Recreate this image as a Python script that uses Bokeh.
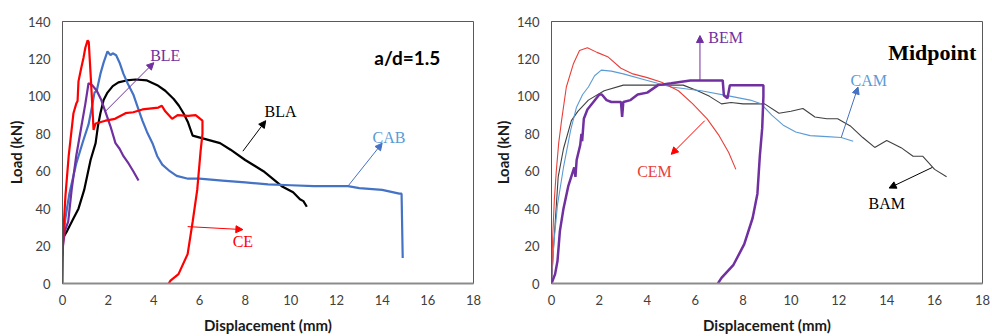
from bokeh.plotting import figure
from bokeh.layouts import row
from bokeh.models import Arrow, NormalHead, FixedTicker, Range1d
from bokeh.core.properties import value
from bokeh.embed import file_html
from bokeh.resources import INLINE

# ---------------- data: left panel (a/d = 1.5) ----------------
CE_x = [0, 0.05, 0.13, 0.27, 0.48, 0.6, 0.66, 0.7, 0.8, 0.92, 1.0, 1.1, 1.15, 1.23, 1.31, 1.36, 1.45, 1.88, 2.3, 2.76,
        3.1, 3.5, 4.2, 4.35, 4.5, 4.8, 5.04, 5.5, 5.83, 6.13, 6.13, 6.05, 5.9, 5.7, 5.48, 5.08, 4.73, 4.65]
CE_y = [15, 30, 47, 68, 91, 96, 97.5, 108, 114, 120.6, 126, 130, 129, 112, 94, 82, 85.5, 87, 88, 91,
        91.5, 93, 94, 95, 92, 88, 90, 89.6, 90, 87, 80, 71, 50, 33, 15.7, 5, 1.5, 0]

BLE_x = [0, 0.02, 0.1, 0.25, 0.4, 0.6, 0.8, 1.0, 1.14, 1.3, 1.5, 1.7, 1.9, 2.1, 2.32, 2.5, 2.67, 2.9, 3.1, 3.33]
BLE_y = [0, 20, 28, 33, 50, 68, 82, 96, 107, 106, 103, 98, 91, 84, 75, 72, 68, 64, 60, 55]

CAB_x = [0, 0.13, 0.3, 0.6, 0.9, 1.14, 1.3, 1.4, 1.5, 1.66, 1.8, 1.97, 2.1, 2.2, 2.35, 2.5, 2.67, 2.85, 3.1,
         3.3, 3.5, 3.7, 3.94, 4.15, 4.37, 4.7, 5.0, 5.5, 6.0, 7.0, 8.0, 9.0, 10.0, 11.0, 12.0, 12.5, 13.0,
         14.0, 14.75, 14.85, 14.9]
CAB_y = [20, 35, 48, 64, 76, 85, 95, 102, 103, 112, 118, 124, 122, 123, 122, 118, 112, 107, 101,
         94, 87, 81, 75, 68, 63.5, 60, 57.5, 56, 56, 55, 54, 53, 52.5, 52, 52, 52, 51,
         50, 48, 48, 13.6]

BLA_x = [0, 0.2, 0.45, 0.7, 0.95, 1.23, 1.45, 1.55, 1.66, 1.8, 1.97, 2.2, 2.45, 2.8, 3.2, 3.7, 4.15, 4.5,
         4.87, 5.1, 5.3, 5.5, 5.7, 6.3, 6.9, 7.36, 8.0, 8.8, 9.6, 10.1, 10.4, 10.55, 10.7]
BLA_y = [24, 28, 34, 40, 50, 66, 75, 84, 91, 98, 102, 105.5, 107.5, 108.5, 109, 108.5, 106, 103,
         98.6, 95, 91, 86, 79, 77, 75, 71.5, 66, 60, 52, 48.8, 45, 44, 41]

# ---------------- data: right panel (Midpoint) ----------------
CEM_x = [0, 0.05, 0.12, 0.2, 0.3, 0.42, 0.62, 0.92, 1.17, 1.5, 1.9, 2.37, 2.9, 3.4, 4.0, 4.6, 5.3, 5.9,
         6.5, 7.0, 7.4, 7.7]
CEM_y = [0, 25, 45, 60, 75, 87, 105, 117.6, 124.5, 126, 123.5, 121, 115, 112, 110, 107.5, 103, 96,
         88, 79, 70, 61]

CAM_x = [0, 0.1, 0.25, 0.5, 0.8, 1.04, 1.3, 1.54, 1.8, 2.08, 2.5, 3.0, 4.0, 5.0, 6.25, 7.5, 8.3, 8.75,
         9.2, 9.7, 10.2, 10.8, 11.5, 12.1, 12.6]
CAM_y = [0, 22, 42, 62, 82, 94, 101, 105, 111, 114, 113.5, 112, 108.5, 105, 103, 100, 98, 96,
         90, 84.4, 81, 79, 78.5, 78, 76]

BAM_x = [0, 0.08, 0.28, 0.5, 0.83, 1.1, 1.54, 2.2, 3.0, 4.0, 5.5, 6.1, 6.6, 7.1, 7.5, 8.0, 8.9, 9.5,
         10.0, 10.5, 11.0, 11.5, 11.95, 12.5, 13.0, 13.5, 14.0, 14.6, 15.1, 15.5, 16.0, 16.5]
BAM_y = [0, 18, 57, 72, 87, 92, 98, 103, 106, 106, 106, 103, 100, 96, 96.7, 96, 96, 91,
         92, 93.5, 89, 88, 88, 84, 78, 72.7, 76.4, 72.6, 68, 68, 61, 57]

BEM_x = [0, 0.15, 0.25, 0.35, 0.5, 0.7, 0.95, 1.0, 1.05, 1.2, 1.25, 1.28, 1.35, 1.5, 1.75, 2.0, 2.1,
         2.3, 2.5, 2.9, 2.95, 3.0, 3.3, 3.6, 4.0, 4.45, 5.0, 5.8, 6.5, 7.15, 7.2, 7.35, 7.45, 7.6,
         8.5, 8.85, 8.85, 8.8, 8.7, 8.6, 8.4, 8.05, 7.6, 7.1, 6.95]
BEM_y = [0, 5, 12, 28, 40, 52, 62, 57, 66, 74, 80, 76, 88, 93, 97, 101, 101,
         98, 97, 97, 89, 97, 98, 101, 102, 106, 107, 108.5, 108.5, 108.5, 100.5, 99, 106, 106,
         106, 106, 100, 83, 68, 48, 35, 21, 10, 3, 0]

X_TICKS = [0, 2, 4, 6, 8, 10, 12, 14, 16, 18]
Y_TICKS = [0, 20, 40, 60, 80, 100, 120, 140]

# annotations: (label, label_x, label_y, arrow x0, y0, x1, y1, arrow colour, text colour)
LEFT_NOTES = [
    ("BLE", 4.5, 122, 1.88, 92, 4.0, 118, "#7030A0", "#7030A0"),
    ("CE", 7.9, 22.5, 5.48, 30.4, 7.9, 28.8, "#FF0000", "#FF0000"),
    ("BLA", 9.55, 92, 7.9, 70.7, 8.9, 87, "#000000", "#000000"),
    ("CAB", 14.3, 78, 12.5, 52, 14.0, 75, "#4472C4", "#5B9BD5"),
]
RIGHT_NOTES = [
    ("BEM", 7.27, 131.5, 6.2, 108.5, 6.2, 132.5, "#7030A0", "#7030A0"),
    ("CEM", 4.3, 60, 6.4, 87, 5.0, 69, "#FF0000", "#E8403A"),
    ("CAM", 13.25, 108.5, 12.1, 78, 12.8, 105, "#4472C4", "#5B9BD5"),
    ("BAM", 14.0, 43, 15.9, 62, 14.1, 51, "#000000", "#000000"),
]
LEFT_TITLE = ("a/d=1.5", 15.1, 121)
RIGHT_TITLE = ("Midpoint", 15.9, 123.5)

SANS = "Lato"
SERIF = "Liberation Serif"


def make_fig(width, height, bl, br, bt, bb, ylab_standoff):
    p = figure(width=width, height=height, output_backend="svg", toolbar_location=None,
               x_range=Range1d(0, 18), y_range=Range1d(0, 140),
               min_border_left=bl, min_border_right=br, min_border_top=bt, min_border_bottom=bb)
    p.grid.visible = False
    p.outline_line_color = "#595959"
    p.outline_line_width = 1
    p.background_fill_color = "white"
    p.border_fill_color = "white"
    for ax in (p.xaxis[0], p.yaxis[0]):
        ax.major_tick_line_color = None
        ax.minor_tick_line_color = None
        ax.major_tick_out = 0
        ax.major_tick_in = 0
        ax.minor_tick_out = 0
        ax.minor_tick_in = 0
        ax.major_label_text_font = SANS
        ax.major_label_text_font_size = "13px"
        ax.major_label_text_color = "#404040"
        ax.axis_label_text_font = SANS
        ax.axis_label_text_font_style = "bold"
        ax.axis_label_text_font_size = "15px"
        ax.axis_label_text_color = "#1a1a1a"
    p.xaxis.axis_line_color = "#8c8c8c"
    p.xaxis.axis_line_width = 2
    p.yaxis.axis_line_color = "#595959"
    p.xaxis.ticker = FixedTicker(ticks=X_TICKS)
    p.yaxis.ticker = FixedTicker(ticks=Y_TICKS)
    p.xaxis.axis_label = "Displacement (mm)"
    p.yaxis.axis_label = "Load (kN)"
    p.xaxis.major_label_standoff = 11
    p.xaxis.axis_label_standoff = 8
    p.yaxis.major_label_standoff = 12
    p.yaxis.axis_label_standoff = ylab_standoff
    return p


def add_notes(p, notes):
    for (lab, lx, ly, x0, y0, x1, y1, acol, tcol) in notes:
        p.add_layout(Arrow(x_start=x0, y_start=y0, x_end=x1, y_end=y1,
                           line_color=acol, line_width=1,
                           end=NormalHead(size=7, fill_color=acol, line_color=acol, line_width=1)))
        p.text(x=[lx], y=[ly], text=[lab], text_color=tcol, text_font=value(SERIF),
               text_font_size="16px", text_align="center", text_baseline="middle")


# left panel
p1 = make_fig(490, 336, 62, 17, 16, 53, 0)
p1.line(BLA_x, BLA_y, line_color="#000000", line_width=2.2)
p1.line(CAB_x, CAB_y, line_color="#4472C4", line_width=2.2)
p1.line(BLE_x, BLE_y, line_color="#7030A0", line_width=2.2)
p1.line(CE_x, CE_y, line_color="#FF0000", line_width=2.2)
add_notes(p1, LEFT_NOTES)
p1.text(x=[LEFT_TITLE[1]], y=[LEFT_TITLE[2]], text=[LEFT_TITLE[0]], text_color="#000000",
        text_font=value(SANS), text_font_style="bold", text_font_size="19px",
        text_align="center", text_baseline="middle")

# right panel
p2 = make_fig(502, 336, 60, 10, 21, 53, 2)
p2.line(BAM_x, BAM_y, line_color="#404040", line_width=1.1)
p2.line(CAM_x, CAM_y, line_color="#5B9BD5", line_width=1.1)
p2.line(CEM_x, CEM_y, line_color="#E8403A", line_width=1.1)
p2.line(BEM_x, BEM_y, line_color="#7030A0", line_width=2.5)
add_notes(p2, RIGHT_NOTES)
p2.text(x=[RIGHT_TITLE[1]], y=[RIGHT_TITLE[2]], text=[RIGHT_TITLE[0]], text_color="#000000",
        text_font=value(SERIF), text_font_style="bold", text_font_size="22px",
        text_align="center", text_baseline="middle")

layout = row(p1, p2)
open("out.html", "w").write(file_html(layout, INLINE))
